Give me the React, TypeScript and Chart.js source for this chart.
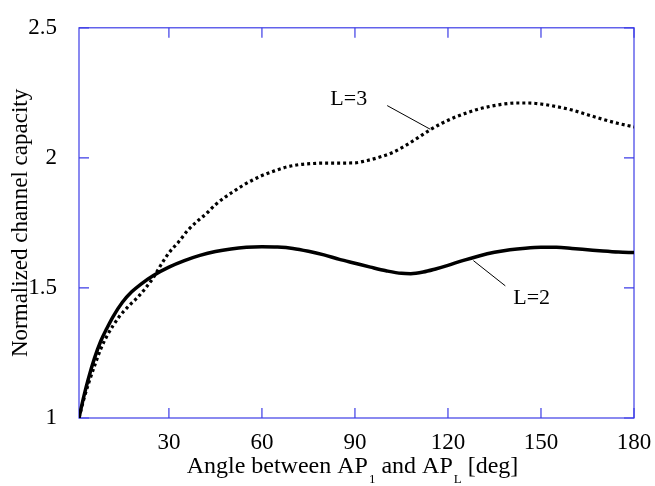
import React, { useEffect, useRef } from "react";
import { Chart, registerables } from "chart.js";
Chart.register(...registerables);

// L=2 series (angle in degrees, normalized channel capacity)
const angles2 = [1, 2.5, 4, 6, 8, 10, 12, 15, 18, 21, 25, 30, 35, 40, 45, 50, 55, 60, 65, 70, 75, 80, 85, 90, 95, 100, 105, 108, 112, 116, 120, 125, 130, 135, 140, 145, 150, 155, 160, 165, 170, 175, 180];
const capacity2 = [1.0, 1.08, 1.15, 1.23, 1.295, 1.345, 1.39, 1.445, 1.485, 1.515, 1.548, 1.58, 1.605, 1.625, 1.64, 1.65, 1.656, 1.658, 1.657, 1.652, 1.641, 1.627, 1.61, 1.595, 1.58, 1.566, 1.556, 1.555, 1.561, 1.573, 1.587, 1.606, 1.623, 1.637, 1.647, 1.653, 1.656, 1.656, 1.652, 1.647, 1.642, 1.638, 1.636];

// L=3 series
const angles3 = [1, 2.5, 4, 6, 8, 10, 12, 14, 17, 20, 22.5, 25, 27.5, 30, 33, 36, 39, 42, 45, 48, 51, 54, 57, 60, 64, 68, 72, 76, 80, 85, 90, 94, 98, 102, 106, 110, 114, 118, 122, 126, 130, 134, 138, 142, 146, 150, 155, 160, 165, 170, 175, 180];
const capacity3 = [1.0, 1.07, 1.13, 1.2, 1.265, 1.315, 1.355, 1.39, 1.43, 1.465, 1.5, 1.54, 1.59, 1.635, 1.675, 1.72, 1.755, 1.785, 1.82, 1.848, 1.872, 1.895, 1.915, 1.932, 1.95, 1.965, 1.974, 1.978, 1.98, 1.98, 1.981, 1.99, 2.003, 2.02, 2.045, 2.075, 2.106, 2.133, 2.155, 2.173, 2.188, 2.199, 2.207, 2.211, 2.211, 2.207, 2.197, 2.184, 2.166, 2.148, 2.132, 2.119];

// Axis ticks
const xTicks = [30, 60, 90, 120, 150, 180];
const yTicks = [1, 1.5, 2, 2.5];
const xMin = 1;
const xMax = 180;
const yMin = 1;
const yMax = 2.5;

// Texts
const yTitle = "Normalized channel capacity";
const xTitleParts: [string, boolean][] = [
  ["Angle between AP", false],
  ["1", true],
  [" and AP", false],
  ["L", true],
  [" [deg]", false],
];

// Curve annotations: label, label position (angle, capacity), leader start, leader end
const annoLabels = ["L=3", "L=2"];
const annoTextX = [88, 147];
const annoTextY = [2.205, 1.44];
const annoLineFromX = [100.4, 138.5];
const annoLineFromY = [2.201, 1.508];
const annoLineToX = [114.3, 128.2];
const annoLineToY = [2.11, 1.605];

const BLUE = "rgb(60,60,230)";
const FONT = "'Liberation Serif', 'Times New Roman', serif";

const framePlugin = {
  id: "frame",
  beforeDatasetsDraw(chart: any) {
    const { ctx, chartArea } = chart;
    const xs = chart.scales.x;
    const ys = chart.scales.y;
    ctx.save();
    ctx.strokeStyle = BLUE;
    ctx.lineWidth = 1.2;
    ctx.strokeRect(chartArea.left, chartArea.top, chartArea.right - chartArea.left, chartArea.bottom - chartArea.top);
    const tl = 10;
    ctx.beginPath();
    for (const v of xTicks) {
      const px = xs.getPixelForValue(v);
      ctx.moveTo(px, chartArea.bottom);
      ctx.lineTo(px, chartArea.bottom - tl);
      ctx.moveTo(px, chartArea.top);
      ctx.lineTo(px, chartArea.top + tl);
    }
    for (const v of yTicks) {
      const py = ys.getPixelForValue(v);
      ctx.moveTo(chartArea.left, py);
      ctx.lineTo(chartArea.left + tl, py);
      ctx.moveTo(chartArea.right, py);
      ctx.lineTo(chartArea.right - tl, py);
    }
    ctx.stroke();
    ctx.restore();
  },
  afterDatasetsDraw(chart: any) {
    const { ctx, chartArea } = chart;
    const xs = chart.scales.x;
    const ys = chart.scales.y;
    ctx.save();
    // annotations
    ctx.strokeStyle = "#000";
    ctx.lineWidth = 1;
    ctx.fillStyle = "#000";
    ctx.font = `22px ${FONT}`;
    ctx.textAlign = "center";
    ctx.textBaseline = "alphabetic";
    for (let i = 0; i < annoLabels.length; i++) {
      ctx.beginPath();
      ctx.moveTo(xs.getPixelForValue(annoLineFromX[i]), ys.getPixelForValue(annoLineFromY[i]));
      ctx.lineTo(xs.getPixelForValue(annoLineToX[i]), ys.getPixelForValue(annoLineToY[i]));
      ctx.stroke();
      ctx.fillText(annoLabels[i], xs.getPixelForValue(annoTextX[i]), ys.getPixelForValue(annoTextY[i]));
    }
    // y title
    ctx.save();
    ctx.font = `23px ${FONT}`;
    ctx.translate(27, (chartArea.top + chartArea.bottom) / 2);
    ctx.rotate(-Math.PI / 2);
    ctx.textAlign = "center";
    ctx.fillText(yTitle, 0, 0);
    ctx.restore();
    // x title with subscripts
    const mainFont = `24px ${FONT}`;
    const subFont = `13px ${FONT}`;
    let total = 0;
    for (const [t, sub] of xTitleParts) {
      ctx.font = sub ? subFont : mainFont;
      total += ctx.measureText(t).width + (sub ? 1 : 0);
    }
    let x = (chartArea.left + chartArea.right) / 2 - 4 - total / 2;
    const base = 473;
    ctx.textAlign = "left";
    for (const [t, sub] of xTitleParts) {
      ctx.font = sub ? subFont : mainFont;
      ctx.fillText(t, x + (sub ? 1 : 0), sub ? base + 10 : base);
      x += ctx.measureText(t).width + (sub ? 1 : 0);
    }
    ctx.restore();
  },
};

export default function App() {
  const ref = useRef<HTMLCanvasElement>(null);
  useEffect(() => {
    if (!ref.current) return;
    const chart = new Chart(ref.current, {
      type: "line",
      data: {
        datasets: [
          {
            label: "L=2",
            data: angles2.map((a, i) => ({ x: a, y: capacity2[i] })),
            borderColor: "#000",
            borderWidth: 3.5,
            pointRadius: 0,
            cubicInterpolationMode: "monotone",
            fill: false,
          },
          {
            label: "L=3",
            data: angles3.map((a, i) => ({ x: a, y: capacity3[i] })),
            borderColor: "#000",
            borderWidth: 3.2,
            borderDash: [3, 3],
            borderCapStyle: "butt",
            pointRadius: 0,
            cubicInterpolationMode: "monotone",
            fill: false,
          },
        ],
      },
      options: {
        animation: false,
        responsive: false,
        devicePixelRatio: 1,
        layout: { padding: { left: 0, top: 22, right: 21, bottom: 0 } },
        plugins: { legend: { display: false }, tooltip: { enabled: false }, title: { display: false } },
        scales: {
          x: {
            type: "linear",
            min: xMin,
            max: xMax,
            grid: { display: false },
            border: { display: false },
            afterBuildTicks: (s: any) => {
              s.ticks = xTicks.map((v) => ({ value: v }));
            },
            afterFit: (s: any) => {
              s.height = 68;
            },
            ticks: {
              color: "#000",
              font: { family: FONT, size: 23 },
              padding: 3,
              maxRotation: 0,
              autoSkip: false,
              callback: (v: any) => String(v),
            },
          },
          y: {
            type: "linear",
            min: yMin,
            max: yMax,
            grid: { display: false },
            border: { display: false },
            afterBuildTicks: (s: any) => {
              s.ticks = yTicks.map((v) => ({ value: v }));
            },
            afterFit: (s: any) => {
              s.width = 79;
            },
            ticks: {
              color: "#000",
              font: { family: FONT, size: 23 },
              padding: 14,
              callback: (v: any) => String(v),
            },
          },
        },
      },
      plugins: [framePlugin],
    } as any);
    return () => chart.destroy();
  }, []);
  return (
    <div style={{ position: "absolute", left: 0, top: 0, width: 655, height: 486, background: "#fff" }}>
      <canvas ref={ref} width={655} height={486} style={{ display: "block" }} />
    </div>
  );
}
